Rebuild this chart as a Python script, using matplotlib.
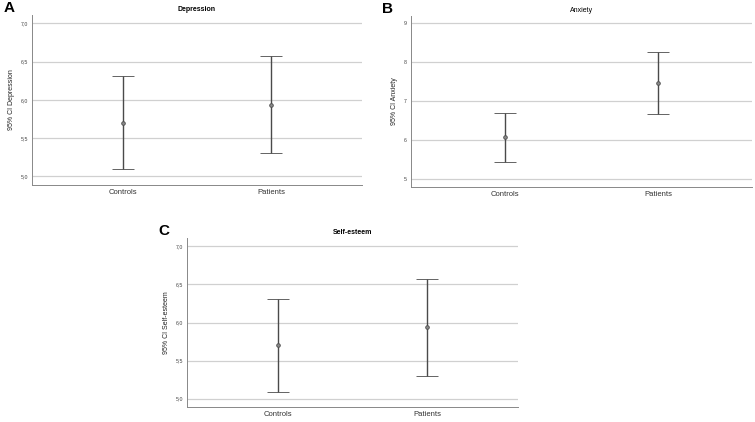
import matplotlib
matplotlib.use("Agg")
import matplotlib.pyplot as plt
import matplotlib.ticker as mticker

plt.rcParams["font.family"] = ["Liberation Sans", "DejaVu Sans"]

grupos = ["Controls", "Patients"]

# medias e IC 95%
dep_media = [5.70, 5.93]
dep_inf = [5.09, 5.30]
dep_sup = [6.31, 6.57]

ans_media = [6.07, 7.47]
ans_inf = [5.43, 6.67]
ans_sup = [6.69, 8.26]

aut_media = [5.70, 5.94]
aut_inf = [5.09, 5.30]
aut_sup = [6.31, 6.57]

dep_ticks = [5.0, 5.5, 6.0, 6.5, 7.0]
ans_ticks = [5, 6, 7, 8, 9]
aut_ticks = [5.0, 5.5, 6.0, 6.5, 7.0]

GRIS = "#4a4a4a"


def panel(ax, media, inf, sup, ticks, ylim, titulo, ylabel, letra, fmt, title_bold):
    x = list(range(len(grupos)))
    yerr = [[m - a for m, a in zip(media, inf)], [b - m for m, b in zip(media, sup)]]
    ax.errorbar(x, media, yerr=yerr, fmt="o", color=GRIS, ecolor=GRIS,
                elinewidth=1.0, capsize=8, capthick=1.0, markersize=2.6,
                markerfacecolor="#8a8a8a", markeredgecolor=GRIS, markeredgewidth=0.6,
                zorder=3)
    ax.set_xlim(-0.61, 1.61)
    ax.set_ylim(*ylim)
    ax.set_yticks(ticks)
    ax.yaxis.set_major_formatter(mticker.FuncFormatter(lambda v, p: fmt.format(v).replace(".", ",")))
    ax.set_xticks(x)
    ax.set_xticklabels(grupos, fontsize=5.5, color="#333333")
    ax.tick_params(axis="y", labelsize=3.8, colors="#444444", length=0, pad=3)
    ax.tick_params(axis="x", length=0, pad=3)
    ax.grid(axis="y", color="#d0d0d0", linewidth=0.9, zorder=0)
    ax.set_axisbelow(True)
    for lado in ["top", "right"]:
        ax.spines[lado].set_visible(False)
    for lado in ["left", "bottom"]:
        ax.spines[lado].set_color("#888888")
        ax.spines[lado].set_linewidth(0.7)
    ax.set_ylabel(ylabel, fontsize=5, color="#222222", labelpad=4)
    ax.set_title(titulo, fontsize=5, fontweight="bold" if title_bold else "normal", pad=3)
    ax.text(-0.07, 1.0, letra, transform=ax.transAxes, fontsize=11,
            fontweight="bold", ha="center", va="bottom")


fig = plt.figure(figsize=(7.55, 4.22), dpi=100)

ax1 = fig.add_axes([0.0424, 0.5616, 0.437, 0.403])
panel(ax1, dep_media, dep_inf, dep_sup, dep_ticks, (4.886, 7.11),
      "Depression", "95% CI Depression", "A", "{:.1f}", True)

ax2 = fig.add_axes([0.5444, 0.5562, 0.4517, 0.4066])
panel(ax2, ans_media, ans_inf, ans_sup, ans_ticks, (4.786, 9.195),
      "Anxiety", "95% CI Anxiety", "B", "{:.0f}", False)

ax3 = fig.add_axes([0.2481, 0.0355, 0.4376, 0.3998])
panel(ax3, aut_media, aut_inf, aut_sup, aut_ticks, (4.891, 7.105),
      "Self-esteem", "95% CI Self-esteem", "C", "{:.1f}", True)

fig.savefig("out.png", dpi=100, facecolor="white")
